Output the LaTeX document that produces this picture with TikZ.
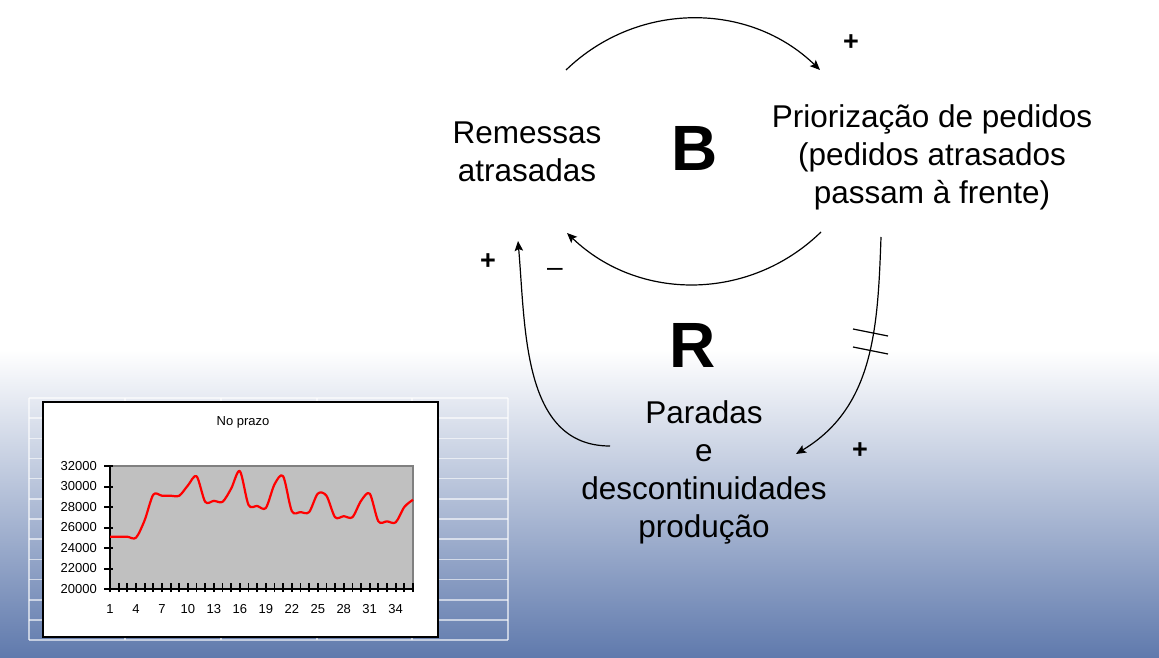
\documentclass[tikz,border=0pt]{standalone}
\usepackage{fontspec}
\setmainfont{Liberation Sans}
\usetikzlibrary{arrows.meta}
\definecolor{bgblue}{RGB}{96,122,173}
\definecolor{plotgray}{RGB}{192,192,192}
\definecolor{plotedge}{RGB}{128,128,128}
\begin{document}
\begin{tikzpicture}[x=1pt,y=1pt,
  cldtext/.style={font=\fontsize{31.5}{38}\selectfont, align=center, inner sep=0pt},
  loopletter/.style={font=\fontsize{64}{64}\selectfont\bfseries, inner sep=0pt},
  polarity/.style={font=\fontsize{27}{27}\selectfont\bfseries, inner sep=0pt},
  negpolarity/.style={font=\fontsize{28}{28}\selectfont, inner sep=0pt},
  link/.style={line width=1.2pt, -{Stealth[length=10pt,width=8.5pt,inset=2pt]}},
  delaymark/.style={line width=1.2pt},
  gridline/.style={white, opacity=0.6, line width=1.6pt},
  ticklbl/.style={font=\fontsize{13}{13}\selectfont, inner sep=0pt},
  axisline/.style={line width=2pt}
]
\useasboundingbox (0,0) rectangle (1159,657);
\fill[white] (0,0) rectangle (1159,657);
\shade[top color=white, bottom color=bgblue] (0,0) rectangle (1159,307);

% faint table grid behind the chart
\foreach \k in {0,...,12} \draw[gridline] (29,{259-\k*20.17}) -- (508,{259-\k*20.17});
\foreach \xx in {29,125,221,317,412,508} \draw[gridline] (\xx,17) -- (\xx,259);

% chart
\node[draw=black, line width=1.5pt, fill=white, minimum width=395pt, minimum height=235pt, inner sep=0pt] (chartbox) at (240.5,137.5) {};
\node[ticklbl] (charttitle) at (243,235) {No prazo};
\fill[plotgray] (110,68) rectangle (413,191);
\draw[plotedge, line width=1.2pt] (110,191) -- (413,191) -- (413,68);
\draw[axisline] (110,191) -- (110,68) -- (413,68);
\foreach \k in {0,...,6} {
  \draw[axisline] (104,{68+\k*20.5}) -- (113,{68+\k*20.5});
  \pgfmathtruncatemacro{\val}{20+2*\k}
  \node[ticklbl, anchor=east] (ylab\k) at (97,{68+\k*20.5}) {\val000};
}
\foreach \i in {0,...,35} \draw[line width=1.8pt] ({110+\i*8.657},65) -- ({110+\i*8.657},74);
\foreach \i in {1,4,...,34} \node[ticklbl] (xlab\i) at ({110+(\i-1)*8.657},48) {\i};
\begin{scope}[shift={(110,68)}, x=8.657pt, y=0.01025pt]
\draw[red, line width=2.2pt, line join=round] plot[smooth, tension=0.5] coordinates {
(0,5100) (1,5100) (2,5100) (3,5000) (4,6700) (5,9200) (6,9100) (7,9100) (8,9100)
(9,10100) (10,11000) (11,8500) (12,8600) (13,8500) (14,9800) (15,11500) (16,8200)
(17,8100) (18,7900) (19,10200) (20,11000) (21,7600) (22,7500) (23,7500) (24,9300)
(25,9100) (26,7000) (27,7100) (28,7000) (29,8600) (30,9300) (31,6600) (32,6600)
(33,6500) (34,8000) (35,8700)};
\end{scope}

% causal loop diagram
\node[cldtext] (rem) at (527,505) {Remessas\\atrasadas};
\node[cldtext] (prio) at (932,500) {Priorização de pedidos\\(pedidos atrasados\\passam à frente)};
\node[cldtext] (par) at (704,184.5) {Paradas\\e\\descontinuidades\\produção};
\node[loopletter] (B) at (695,508.5) {B};
\node[loopletter] (R) at (693,311.5) {R};

\node[polarity] (p1) at (851,614) {+};
\node[polarity] (p2) at (488,395) {+};
\node[negpolarity] (m1) at (555,385) {–};
\node[polarity] (p3) at (860,206) {+};

\coordinate (a1s) at (566,587); \coordinate (a1e) at (820,587);
\draw[link] (a1s) to[bend left=44] (a1e);
\coordinate (a2s) at (821,425); \coordinate (a2e) at (567,424);
\draw[link] (a2s) to[bend left=44] (a2e);
\coordinate (a3s) at (881,420); \coordinate (a3e) at (796,203);
\draw[link] (a3s) to[out=-92,in=31] (a3e);
\coordinate (a4s) at (610,211); \coordinate (a4e) at (518,416);
\draw[link] (a4s) to[out=180,in=-85] (a4e);

\coordinate (d1a) at (853,328); \coordinate (d1b) at (888,321);
\coordinate (d2a) at (853,310); \coordinate (d2b) at (888,303);
\draw[delaymark] (d1a) -- (d1b);
\draw[delaymark] (d2a) -- (d2b);
\end{tikzpicture}
\end{document}
